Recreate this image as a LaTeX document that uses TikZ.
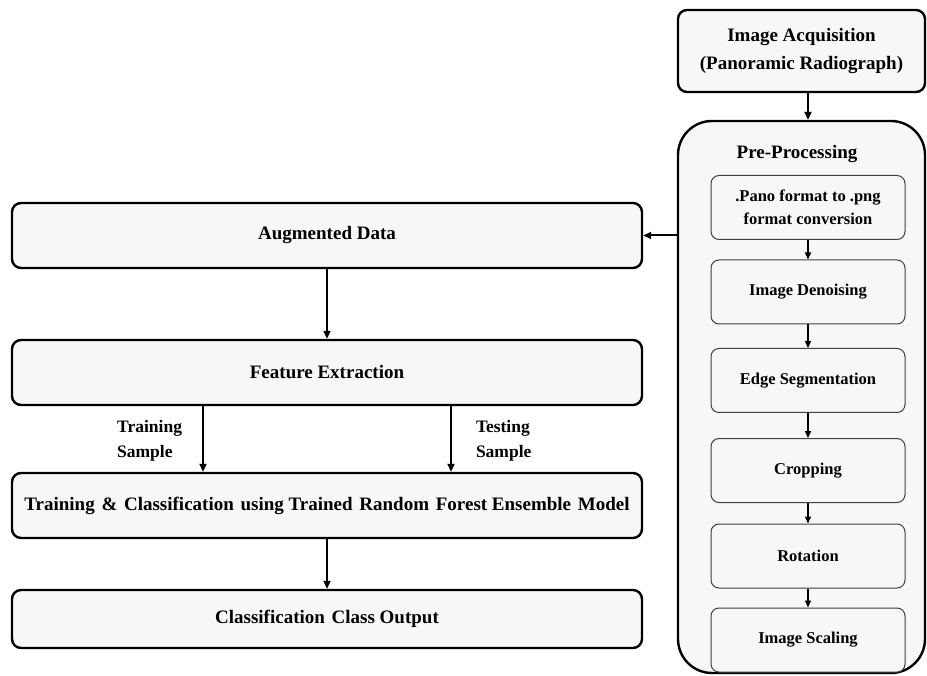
\documentclass[tikz,border=0pt]{standalone}
\usepackage{fontspec}
\setmainfont{Liberation Serif}
\usetikzlibrary{arrows.meta,positioning}

\tikzstyle{bigbox} = [rectangle, draw, line width=2.4pt, fill=black!3,
    rounded corners=9pt, text centered, inner sep=0pt,
    font=\fontsize{19}{28}\selectfont\bfseries]
\tikzstyle{stage} = [rectangle, draw=black!75, line width=1pt, fill=black!3,
    rounded corners=8pt, minimum width=194pt, minimum height=64pt,
    text centered, inner sep=0pt, font=\fontsize{16.5}{23}\selectfont\bfseries]
\tikzstyle{arr} = [-{Triangle[length=8pt,width=7pt]}, line width=2pt]
\tikzstyle{thinarr} = [-{Triangle[length=7pt,width=6pt]}, line width=1.4pt]
\tikzstyle{lab} = [align=left, inner sep=0pt, font=\fontsize{17.5}{25}\selectfont\bfseries]

\newcommand{\gap}{\hspace{2pt}}

\begin{document}
\begin{tikzpicture}[x=1pt,y=-1pt]
  \useasboundingbox (0,0) rectangle (927,676);

  % right column
  \node[bigbox, minimum width=247pt, minimum height=82pt, align=center]
        (acq) at (801.5,51) {Image Acquisition\\(Panoramic Radiograph)};
  \node[bigbox, minimum width=247pt, minimum height=552pt, rounded corners=34pt]
        (pre) at (801.5,397) {};
  \node[font=\fontsize{19}{22}\selectfont\bfseries] (pretitle) at (797,154) {Pre-Processing};

  \node[stage, align=center] (pano)  at (808,207.5) {.Pano format to .png\\format conversion};
  \node[stage]               (den)   at (808,292)   {Image Denoising};
  \node[stage]               (edge)  at (808,380.5) {Edge Segmentation};
  \node[stage]               (crop)  at (808,470.5) {Cropping};
  \node[stage]               (rot)   at (808,556)   {Rotation};
  \node[stage]               (scale) at (808,640)   {Image Scaling};

  % left column
  \node[bigbox, minimum width=630pt, minimum height=65pt] (aug)   at (327,235.5) {Augmented Data};
  \node[bigbox, minimum width=630pt, minimum height=65pt] (feat)  at (327,372.5) {Feature Extraction};
  \node[bigbox, minimum width=630pt, minimum height=65pt] (train) at (327,505.5)
        {Training \gap\& \gap Classification \gap using Trained \gap Random \gap Forest Ensemble \gap Model};
  \node[bigbox, minimum width=630pt, minimum height=58pt] (out)   at (327,619) {Classification \gap Class Output};

  % connectors
  \draw[arr] (acq.south -| pano.north) -- (pre.north -| pano.north);
  \draw[arr] (pre.west |- aug.east) -- (aug.east);
  \draw[arr] (aug.south) -- (feat.north);
  \draw[arr] ([xshift=-124pt]feat.south) -- ([xshift=-124pt]train.north)
        node[lab, pos=0.53, left=20pt] (trlab) {Training\\Sample};
  \draw[arr] ([xshift=124pt]feat.south) -- ([xshift=124pt]train.north)
        node[lab, pos=0.53, right=24pt] (telab) {Testing\\Sample};
  \draw[arr] (train.south) -- (out.north);

  \foreach \a/\b in {pano/den, den/edge, edge/crop, crop/rot, rot/scale}
    \draw[thinarr] (\a.south) -- (\b.north);
\end{tikzpicture}
\end{document}
